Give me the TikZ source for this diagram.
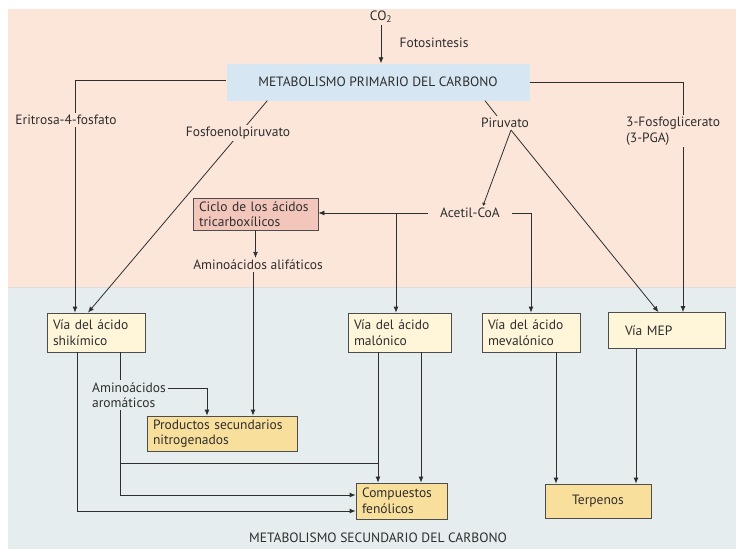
\documentclass[tikz,border=0pt]{standalone}
\usepackage{fontspec}
\setmainfont{PT Sans}
\usetikzlibrary{arrows.meta}

\definecolor{peach}{HTML}{FCE6DA}
\definecolor{bluebg}{HTML}{E5EDEE}
\definecolor{primblue}{HTML}{D6E6F3}
\definecolor{ciclopink}{HTML}{F3C6BB}
\definecolor{paleyel}{HTML}{FFF6DA}
\definecolor{deepyel}{HTML}{F9DF9C}
\definecolor{ink}{HTML}{2E2E2E}

\begin{document}
\begin{tikzpicture}[x=1pt,y=-1pt,
    font=\fontsize{13.5}{15.5}\selectfont, text=ink,
    line/.style={draw=ink, line width=0.8pt},
    arr/.style={line, -{Latex[length=6pt,width=5pt]}},
    smallarr/.style={line, -{Latex[length=3pt,width=4pt]}},
    box/.style={draw=ink!85, line width=0.8pt, fill=paleyel, align=left,
      inner xsep=6pt, inner ysep=2pt, minimum height=39pt},
    endbox/.style={box, fill=deepyel},
    lbl/.style={inner sep=2pt}]

  \useasboundingbox (0,0) rectangle (736,549);
  % two areas
  \fill[peach] (8,9) rectangle (736,287);
  \fill[bluebg] (8,287) rectangle (736,549);
  \draw[peach!80!black!30!bluebg, line width=1pt] (8,287) -- (736,287);

  % primary metabolism
  \node[fill=primblue, minimum width=303pt, minimum height=37pt] (prim) at (378,82) {METABOLISMO PRIMARIO DEL CARBONO};
  \node[lbl] (co2) at (381,17) {CO\textsubscript{2}};
  \node[lbl] (foto) at (434,43) {Fotosintesis};
  \node[lbl] (piru) at (505,123) {Piruvato};
  \node[lbl, inner xsep=12pt] (acetil) at (470,213) {Acetil-CoA};
  \node[box, fill=ciclopink, text width=113pt, minimum height=32pt] (ciclo) at (255.5,214) {Ciclo de los ácidos\\tricarboxílicos};
  \node[lbl] (alif) at (258,265) {Aminoácidos alifáticos};

  % secondary pathways
  \node[box, text width=86pt] (shik) at (96,332.5) {Vía del ácido\\shikímico};
  \node[box, text width=91pt] (malo) at (399.5,332.5) {Vía del ácido\\malónico};
  \node[box, text width=86pt] (meva) at (531,332.5) {Vía del ácido\\mevalónico};
  \node[box, text width=105pt, minimum height=36pt] (mep) at (666.5,330.5) {\hspace*{11pt}Vía MEP};
  \node[endbox, text width=138pt, minimum height=35pt] (prod) at (222,433.5) {Productos secundarios\\nitrogenados};
  \node[endbox, text width=79pt, minimum height=36pt] (comp) at (401.5,501) {Compuestos\\fenólicos};
  \node[endbox, align=center, text width=94pt, minimum height=34pt] (terp) at (598,501) {Terpenos};
  \node[lbl] (sec) at (378,538) {METABOLISMO SECUNDARIO DEL CARBONO};

  % lines that run under labels
  \coordinate (eriC) at (75,80);
  \draw[arr] (prim.west |- eriC) -- (eriC) -- (eriC |- shik.north);
  \draw[arr] ([xshift=41pt]prim.south west) -- ([xshift=-8pt]shik.north);
  \draw[arr] (prim.east) -| ([xshift=16.5pt]mep.north);
  \coordinate (sk1) at ([xshift=-19pt]shik.south);
  \coordinate (sk2) at ([xshift=24pt]shik.south);
  \coordinate (ml1) at ([xshift=-21.5pt]malo.south);
  \coordinate (ml2) at ([xshift=21.5pt]malo.south);
  \draw[arr] (sk2) |- ([yshift=6pt]comp.west);

  \node[lbl, fill=peach] (eri) at (66,120) {Eritrosa-4-fosfato};
  \node[lbl, fill=peach] (fosfo) at (238,133) {Fosfoenolpiruvato};
  \node[lbl, fill=peach, align=left, anchor=west] (pga) at (624,131) {3-Fosfoglicerato\\(3-PGA)};
  \node[lbl, fill=bluebg, align=left, anchor=west] (arom) at (90,395) {Aminoácidos\\aromáticos};

  % other connectors
  \draw[arr] (co2.south) -- (co2.south |- prim.north);
  \draw[line] ([xshift=107pt]prim.south) -- ([xshift=-8pt]piru.north);
  \draw[smallarr] ([xshift=6pt]piru.south) -- ([xshift=13pt]acetil.north);
  \draw[arr] ([xshift=6pt]piru.south) -- ([xshift=-8pt]mep.north);
  \draw[arr] (acetil.west) -- (acetil.west -| ciclo.east);
  \coordinate (brA) at (396,213);
  \draw[arr] (brA) -- (brA |- malo.north);
  \draw[arr] (acetil.east) -| (meva.north);
  \draw[arr] (ciclo.south) -- (ciclo.south |- alif.north);
  \draw[arr] ([xshift=-5pt]alif.south) -- ([xshift=-5pt]alif.south |- prod.north);
  \draw[arr] ([yshift=7pt]arom.east) -| ([xshift=-15pt]prod.north);
  \draw[arr] (sk1) |- ([yshift=-10pt]comp.west);
  \draw[line] (sk2 |- 0,463) -- (ml1 |- 0,463);
  \draw[arr] (ml1) -- (ml1 |- comp.north);
  \draw[arr] (ml2) -- (ml2 |- comp.north);
  \draw[arr] ([xshift=25pt]meva.south) -- ([xshift=25pt]meva.south |- terp.north);
  \draw[arr] ([xshift=-30.5pt]mep.south) -- ([xshift=-30.5pt]mep.south |- terp.north);
\end{tikzpicture}
\end{document}
